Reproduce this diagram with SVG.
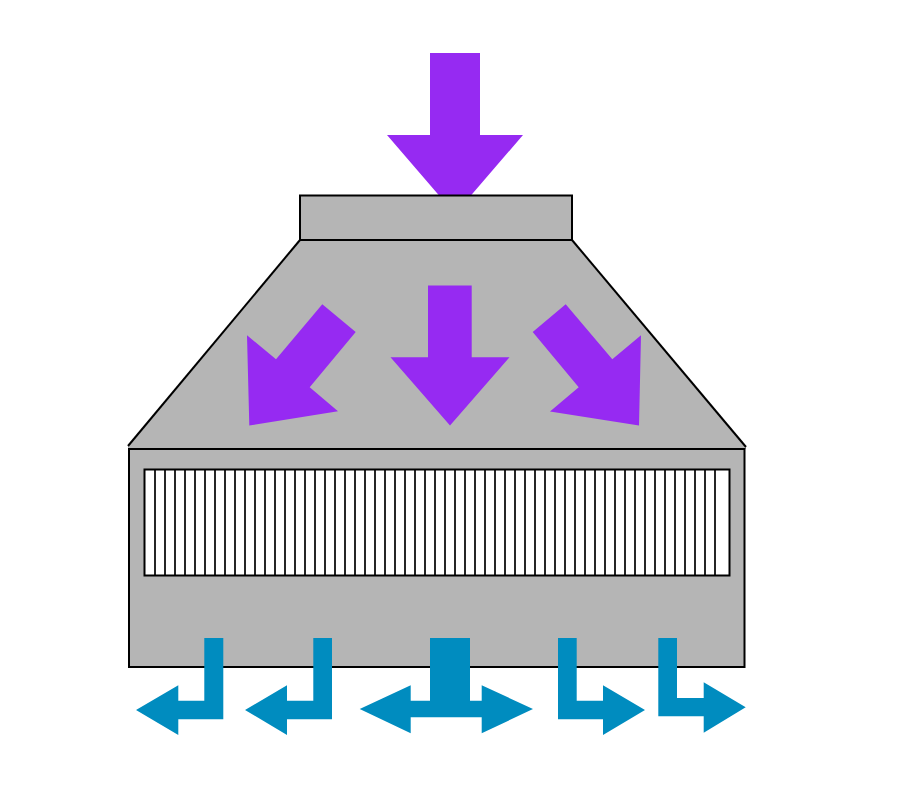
<svg xmlns="http://www.w3.org/2000/svg" width="906" height="808" viewBox="0 0 906 808">
<style>
.body{fill:#b5b5b5;stroke:#000;stroke-width:2}
.slope{fill:none;stroke:#000;stroke-width:2}
.in{fill:#962af2}
.out{fill:#008cbf}
.fin{stroke:#000;stroke-width:1.700;fill:none}
</style>
<rect width="906" height="808" fill="#fff"/>
<g id="inlet-arrow"><polygon class="in" points="430,53 480,53 480,135 523,135 455,214 387,135 430,135"/></g>
<g id="hood">
<polygon points="128,446 300,240 572,240 746,447 746,449 128,449" fill="#b5b5b5"/>
<polyline class="slope" points="128,446 300,240"/>
<polyline class="slope" points="572,240 746,447"/>
</g>
<g id="collar"><rect class="body" x="300" y="195.500" width="272" height="44.500"/></g>
<g id="housing"><rect class="body" x="129" y="449" width="615.500" height="218"/></g>
<g id="coil">
<rect x="144.500" y="469.500" width="585" height="106" fill="#fff" stroke="#000" stroke-width="2"/>
<path class="fin" d="M155 470V575M165 470V575M175 470V575M185 470V575M195 470V575M205 470V575M215 470V575M225 470V575M235 470V575M245 470V575M255 470V575M265 470V575M275 470V575M285 470V575M295 470V575M305 470V575M315 470V575M325 470V575M335 470V575M345 470V575M355 470V575M365 470V575M375 470V575M385 470V575M395 470V575M405 470V575M415 470V575M425 470V575M435 470V575M445 470V575M455 470V575M465 470V575M475 470V575M485 470V575M495 470V575M505 470V575M515 470V575M525 470V575M535 470V575M545 470V575M555 470V575M565 470V575M575 470V575M585 470V575M595 470V575M605 470V575M615 470V575M625 470V575M635 470V575M645 470V575M655 470V575M665 470V575M675 470V575M685 470V575M695 470V575M705 470V575M715 470V575"/>
</g>
<g id="connectors">
<g id="hood-arrows">
<polygon class="in" points="428,285.500 471.700,285.500 471.700,357.300 509.500,357.300 450,425.500 390.500,357.300 428,357.300"/>
<polygon class="in" points="322.300,304.300 355.700,332 309.700,387.300 338,411.300 249.300,425.500 247,335.300 276,359.300"/>
<polygon class="in" points="565.700,304.300 532.700,332 578.700,387.300 550,411.500 639,425.500 641,335.300 612.300,359.300"/>
</g>
<g id="outlet-arrows">
<polygon class="out" points="204.300,638 223.300,638 223.300,719.300 178.300,719.300 178.300,735 136,710 178.300,685.300 178.300,700.700 204.300,700.700"/>
<polygon class="out" points="313.300,638 332,638 332,719.300 287,719.300 287,735 245,710 287,685.300 287,700.700 313.300,700.700"/>
<polygon class="out" points="430,638 470,638 470,700.700 481.700,700.700 481.700,685.300 533,709 481.700,733.300 481.700,717.300 410.700,717.300 410.700,733.300 359.700,709 410.700,685.300 410.700,700.700 430,700.700"/>
<polygon class="out" points="558,638 576.700,638 576.700,700.700 603,700.700 603,685.300 645,710 603,735 603,719.300 558,719.300"/>
<polygon class="out" points="658.300,638 677,638 677,698 703.700,698 703.700,682.300 745.700,707.300 703.700,732.700 703.700,716.300 658.300,716.300"/>
</g>
</g>
</svg>
